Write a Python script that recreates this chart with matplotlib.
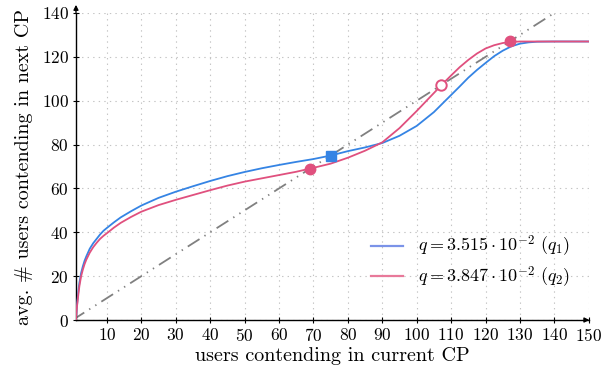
import numpy as np
import matplotlib
matplotlib.use("Agg")
import matplotlib.pyplot as plt
from matplotlib.lines import Line2D

plt.rcParams["font.family"] = ["cmr10", "DejaVu Serif"]
plt.rcParams["mathtext.fontset"] = "cm"
plt.rcParams["axes.formatter.use_mathtext"] = True
plt.rcParams["lines.scale_dashes"] = False

# ---------------------------------------------------------------- 数据
users_q1 = [1, 1.25, 1.5, 1.75, 2, 2.5, 3, 3.5, 4, 5, 6, 7, 8, 9, 10, 12, 14,
            17, 20, 25, 30, 35, 40, 45, 50, 55, 60, 65, 70, 75, 80, 85, 90,
            95, 100, 105, 110, 112.5, 115, 117.5, 120, 122.5, 125, 127.5,
            130, 132.5, 135, 140, 150]
next_q1 = [0, 6, 10, 14, 17, 21.5, 24.5, 27, 29, 32.5, 35, 37, 39, 40.7, 42,
           44.5, 46.8, 49.6, 52.2, 55.7, 58.5, 61, 63.4, 65.6, 67.5, 69.2,
           70.7, 72.1, 73.4, 75, 77, 78.7, 80.7, 84, 88.5, 94.8, 102.6,
           106.5, 110.5, 114, 117.2, 120.3, 122.8, 124.8, 126, 126.6, 126.9,
           127, 127]
users_q2 = [1, 1.25, 1.5, 1.75, 2, 2.5, 3, 3.5, 4, 5, 6, 7, 8, 9, 10, 12, 14,
            17, 20, 25, 30, 35, 40, 45, 50, 55, 60, 65, 70, 75, 80, 85, 90,
            95, 100, 105, 107.5, 110, 112.5, 115, 117.5, 120, 122.5, 125,
            127.5, 130, 140, 150]
next_q2 = [0, 5.5, 9, 12.5, 15.5, 20, 23, 25.5, 27.5, 30.7, 33.2, 35.2, 37,
           38.4, 39.6, 42.1, 44.3, 47, 49.4, 52.4, 54.8, 57, 59.2, 61.3, 63.1,
           64.6, 66.1, 67.6, 69.4, 71.3, 74, 77.2, 81, 87.5, 95.3, 103.5,
           107.6, 111.5, 115.3, 118.6, 121.5, 123.8, 125.3, 126.3, 126.8,
           127, 127, 127]
diag = [0, 140]

q1_label = r"$q = 3.515 \cdot 10^{-2}\ (q_1)$"
q2_label = r"$q = 3.847 \cdot 10^{-2}\ (q_2)$"

fix_q1 = [75]          # 不动点
fix_q2_stable = [69, 127]
fix_q2_unstable = [107]

BLUE = "#3584e4"
RED = "#e0507e"

# ---------------------------------------------------------------- 图

fig = plt.figure(figsize=(6.02, 3.68), dpi=100)
ax = fig.add_axes([0.1262, 0.1304, 0.978 - 0.1262, 0.9647 - 0.1304])

ax.plot(diag, diag, color="#808080", lw=1.3, dashes=(10, 4.2, 1, 4.2, 1, 4.2),
        zorder=2)
ax.plot(users_q1, next_q1, color=BLUE, lw=1.3, zorder=3)
ax.plot(users_q2, next_q2, color=RED, lw=1.3, zorder=3)

ax.plot(fix_q1, fix_q1, "s", color=BLUE, ms=7, zorder=4, clip_on=False)
ax.plot(fix_q2_stable, fix_q2_stable, "o", color=RED, ms=7.5, zorder=4,
        clip_on=False)
ax.plot(fix_q2_unstable, fix_q2_unstable, "o", mfc="white", mec=RED, mew=1.4,
        ms=7.5, zorder=4)

ax.set_xlim(1, 150)
ax.set_ylim(0, 140)
ax.set_xticks(range(10, 151, 10))
ax.set_yticks(range(0, 141, 20))
ax.grid(True, ls=(0, (1, 3)), color="#c4c4c4", lw=0.8)
ax.tick_params(direction="inout", length=4, width=0.8, labelsize=12.5, pad=3)

for s in ("top", "right"):
    ax.spines[s].set_visible(False)
for s in ("left", "bottom"):
    ax.spines[s].set_linewidth(1.0)

# 坐标轴箭头
ax.annotate("", xy=(1, 145), xytext=(1, 139), xycoords="data",
            arrowprops=dict(arrowstyle="-|>", color="black", lw=1.0,
                            mutation_scale=7), annotation_clip=False)
ax.annotate("", xy=(151, 0), xytext=(148, 0), xycoords="data",
            arrowprops=dict(arrowstyle="-|>", color="black", lw=1.0,
                            mutation_scale=7), annotation_clip=False)

ax.set_xlabel("users contending in current CP", fontsize=14.5, labelpad=2)
ax.set_ylabel("avg. # users contending in next CP", fontsize=14.5, labelpad=6)

handles = [Line2D([], [], color="#7b93e8", lw=1.6, label=q1_label),
           Line2D([], [], color="#e8799a", lw=1.6, label=q2_label)]
ax.legend(handles=handles, loc="lower right", bbox_to_anchor=(0.995, 0.045),
          frameon=False, fontsize=13, handlelength=1.8, handletextpad=0.8,
          labelspacing=0.3)

fig.savefig("out.png", dpi=100)
